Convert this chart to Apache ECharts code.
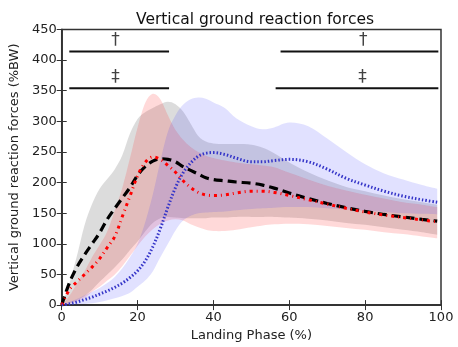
<!DOCTYPE html>
<html><head><meta charset="utf-8">
<script src="https://cdn.jsdelivr.net/npm/echarts@6/dist/echarts.min.js"></script>
<style>html,body{margin:0;padding:0;background:#fff}#c{width:458px;height:347px}</style>
</head><body><div id="c"></div>
<script>
// Landing phase grid (%)
var phase = [0,2,4,6,8,10,12,14,16,18,20,22,24,26,28,30,32,34,36,38,40,43,46,50,53,56,60,65,70,75,80,85,90,95,99];

// Group 1 (black dashed) mean and band
var meanBlack = [0,36,62,82,100,118,140,158,175,192,212,226,235,239,238,234,226,220,214,208,205,203,201,199,196,191,183,174,166,159,153,148,144,140,137];
var upperGray = [0,35,80,130,165,190,206,222,245,280,304,315,322,328,332,328,316,296,276,267,264,263,263,262,257,248,233,217,204,193,186,179,173,168,164];
var lowerGray = [0,3,8,15,25,38,50,62,75,90,104,120,134,142,144,143,142,142,142,142,143,143,144,144,144,144,143,141,138,134,131,127,123,119,115];

// Group 2 (red dash-dot) mean and band
var meanRed = [0,25,38,50,62,76,94,112,145,178,211,233,242,238,228,217,203,192,184,180,179,180,183,186,186,184,179,172,165,158,152,147,143,139,136];
var upperRed = [0,15,35,55,78,98,120,155,192,240,290,330,345,336,310,286,270,258,250,244,240,236,233,230,228,225,216,205,195,187,180,174,168,164,160];
var lowerRed = [0,2,6,12,22,30,40,50,64,80,97,112,124,133,138,140,138,132,127,123,121,121,123,127,130,132,133,132,129,126,123,119,116,112,109];

// Group 3 (blue dotted) mean and band
var meanBlue = [0,2,5,9,13,18,23,29,36,45,56,72,95,125,160,192,216,232,243,248,249,246,240,234,234,236,238,234,222,207,196,186,178,172,168];
var upperBlue = [0,5,10,16,22,28,36,46,60,78,100,135,180,235,283,310,327,336,339,337,331,322,305,292,287,290,298,292,272,250,230,215,205,196,190];
var lowerBlue = [0,0,1,2,3,5,8,11,15,20,30,40,55,78,100,122,138,146,150,151,152,153,155,157,158,159,160,160,158,156,154,152,150,149,148];

// Significance bars: [start, end, level]
var sigBars = [[2,28.3,414],[57.7,99.3,414],[2,28.3,354],[56.4,99.3,354]];
// Significance symbols: [x, y, text]
var sigMarks = [[14.2,432,'\u2020'],[79.5,432,'\u2020'],[14.2,371,'\u2021'],[79.3,371,'\u2021']];

var xTicks = [0,20,40,60,80,100];
var yTicks = [0,50,100,150,200,250,300,350,400,450];

function pairs(ys){ return phase.map(function(x,i){ return [x, ys[i]]; }); }
function table(lo, up){ return phase.map(function(x,i){ return [x, lo[i], up[i]]; }); }

// Catmull-Rom curve through pixel points, as path segments (no initial move)
function curveSeg(p){
  var s = '';
  for (var i = 0; i < p.length - 1; i++){
    var p0 = p[i > 0 ? i - 1 : i], p1 = p[i], p2 = p[i + 1], p3 = p[i + 2 < p.length ? i + 2 : i + 1];
    var c1x = p1[0] + (p2[0] - p0[0]) / 6, c1y = p1[1] + (p2[1] - p0[1]) / 6;
    var c2x = p2[0] - (p3[0] - p1[0]) / 6, c2y = p2[1] - (p3[1] - p1[1]) / 6;
    s += ' C' + c1x.toFixed(2) + ' ' + c1y.toFixed(2) + ' ' + c2x.toFixed(2) + ' ' + c2y.toFixed(2) + ' ' + p2[0].toFixed(2) + ' ' + p2[1].toFixed(2);
  }
  return s;
}

var SM = 0.35;
function bandSeries(lo, up, color){
  return {
    type:'custom', data:table(lo, up), silent:true, z:1,
    encode:{x:0, y:[1,2]},
    renderItem:function(params, api){
      if (params.dataIndex !== 0) return null;
      var n = phase.length, i, top = [], bot = [];
      for (i = 0; i < n; i++) top.push(api.coord([phase[i], up[i]]));
      for (i = n - 1; i >= 0; i--) bot.push(api.coord([phase[i], lo[i]]));
      var d = 'M' + top[0][0] + ' ' + top[0][1] + curveSeg(top) +
              ' L' + bot[0][0] + ' ' + bot[0][1] + curveSeg(bot) + ' Z';
      return {type:'path', shape:{pathData:d}, style:{fill:color, stroke:null}};
    }
  };
}

var series = [];
series.push(bandSeries(lowerGray, upperGray, 'rgba(110,110,110,0.24)'));
series.push(bandSeries(lowerRed, upperRed, 'rgba(255,30,30,0.17)'));
series.push(bandSeries(lowerBlue, upperBlue, 'rgba(40,40,255,0.14)'));

series.push({type:'line', data:pairs(meanBlack), symbol:'none', smooth:SM, z:5,
  lineStyle:{color:'#000', width:3.2, type:[9,5]}});
series.push({type:'line', data:pairs(meanRed), symbol:'none', smooth:SM, z:6,
  lineStyle:{color:'#ff0000', width:3, type:[3,4,1,4]}});
series.push({type:'line', data:pairs(meanBlue), symbol:'none', smooth:SM, z:7,
  lineStyle:{color:'#3535c8', width:3, type:[1.5,2]}});

sigBars.forEach(function(b){
  series.push({type:'line', data:[[b[0],b[2]],[b[1],b[2]]], symbol:'none', z:8,
    lineStyle:{color:'#111', width:2}});
});
series.push({type:'scatter', symbolSize:0, z:9,
  data: sigMarks.map(function(m){ return {value:[m[0],m[1]], name:m[2]}; }),
  label:{show:true, position:'inside', formatter:function(p){return p.name;}, color:'#111', fontSize:17, fontFamily:'DejaVu Sans'}
});

var axLabel = {color:'#222', fontSize:13, fontFamily:'DejaVu Sans'};
var option = {
  animation:false,
  title:{text:'Vertical ground reaction forces', left:250, top:7, textAlign:'center',
    textStyle:{fontSize:15.5, fontWeight:'normal', color:'#111', fontFamily:'DejaVu Sans'}},
  grid:{left:60, right:17, top:29.5, bottom:40, show:true, borderColor:'#333', borderWidth:1.5, backgroundColor:'transparent'},
  xAxis:[
    {type:'value', min:0, max:100, interval:20, name:'Landing Phase (%)', nameLocation:'middle', nameGap:23,
     nameTextStyle:{fontSize:13, color:'#222', fontFamily:'DejaVu Sans'},
     axisLine:{show:true, lineStyle:{color:'#333', width:1.5}}, axisTick:{inside:true, length:5, lineStyle:{color:'#333'}},
     axisLabel:Object.assign({margin:6, formatter:function(v){return xTicks.indexOf(v)>=0?String(v):'';}}, axLabel), splitLine:{show:false}},
    {type:'value', position:'top', min:0, max:100, interval:20,
     axisLine:{show:true, lineStyle:{color:'#333', width:1.5}}, axisTick:{inside:true, length:5, lineStyle:{color:'#333'}},
     axisLabel:{show:false}, splitLine:{show:false}}
  ],
  yAxis:[
    {type:'value', min:0, max:450, interval:50, name:'Vertical ground reaction forces (%BW)', nameLocation:'middle', nameGap:34,
     nameTextStyle:{fontSize:13, color:'#222', fontFamily:'DejaVu Sans'},
     axisLine:{show:true, lineStyle:{color:'#333', width:1.5}}, axisTick:{inside:true, length:5, lineStyle:{color:'#333'}},
     axisLabel:Object.assign({margin:5, formatter:function(v){return yTicks.indexOf(v)>=0?String(v):'';}}, axLabel), splitLine:{show:false}},
    {type:'value', position:'right', min:0, max:450, interval:50,
     axisLine:{show:true, lineStyle:{color:'#333', width:1.5}}, axisTick:{inside:true, length:5, lineStyle:{color:'#333'}},
     axisLabel:{show:false}, splitLine:{show:false}}
  ],
  series: series
};
var chart = echarts.init(document.getElementById('c'), null, {renderer:'canvas'});
chart.setOption(option);
</script>
</body></html>
